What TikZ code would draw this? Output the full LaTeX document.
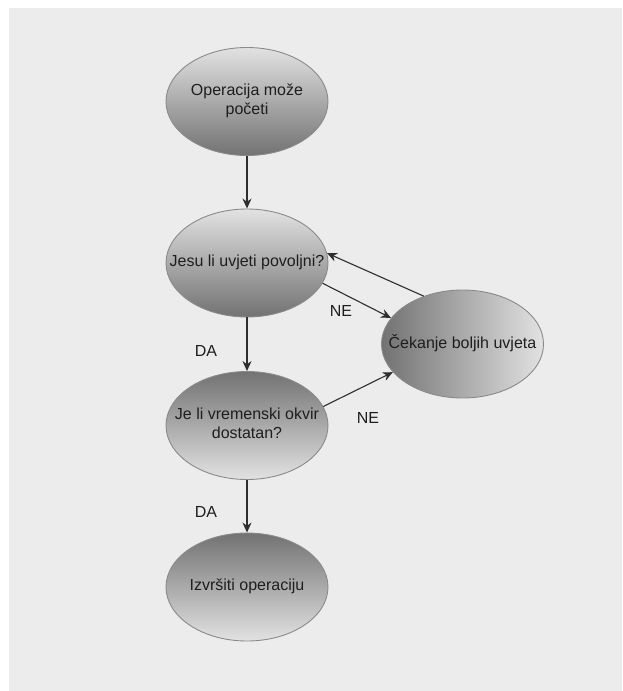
\documentclass[tikz,border=0pt]{standalone}
\usepackage{fontspec}
\setmainfont{Liberation Sans}
\usetikzlibrary{shapes.geometric,arrows.meta}
\definecolor{pozadina}{HTML}{ECECEC}
\definecolor{svijetla}{HTML}{E2E2E2}
\definecolor{tamna}{HTML}{727272}
\definecolor{rub}{HTML}{8A8A8A}
\definecolor{crta}{HTML}{2E2E2E}
\definecolor{tekst}{HTML}{1E1E1E}
\newcommand\velikifont{\fontsize{16}{19}\selectfont}
% tekst bez sirine, da elipsa ostane zadane velicine
\newcommand\utekst[1]{\makebox[0pt]{\begin{tabular}{@{}c@{}}#1\end{tabular}}}

\begin{document}
\begin{tikzpicture}[x=1pt,y=-1pt,
    stanje/.style={ellipse,draw=rub,line width=0.9pt,minimum width=162pt,minimum height=108pt,
      inner sep=0pt,text=tekst,font=\velikifont},
    svijetlo/.style={stanje,top color=svijetla,bottom color=tamna},
    tamno/.style={stanje,top color=tamna,bottom color=svijetla},
    strelica/.style={draw=crta,line width=1.1pt,-{Stealth[length=10pt,width=9pt]}},
    oznaka/.style={text=tekst,font=\velikifont}]
      \useasboundingbox (0,0) rectangle (622,691);
      \fill[pozadina] (9,8) rectangle (622,691);

      % stanja
      \node[svijetlo] (start) at(247,101.5) {\utekst{Operacija može\\početi}};
      \node[svijetlo] (uvjeti) at(247,263) {\utekst{Jesu li uvjeti povoljni?}};
      \node[stanje,left color=tamna,right color=svijetla] (cekanje) at(462.5,344) {\utekst{Čekanje boljih uvjeta}};
      \node[tamno] (okvir) at(247,425.5) {\utekst{Je li vremenski okvir\\dostatan?}};
      \node[tamno] (izvrsi) at(247,587) {\utekst{Izvršiti operaciju}};

      % prijelazi
      \draw[strelica] (start) -- (uvjeti);
      \draw[strelica] (uvjeti.-15) -- (cekanje.160);
      \draw[strelica] (cekanje.129) -- (uvjeti.7);
      \draw[strelica] (uvjeti) -- (okvir);
      \draw[strelica] (okvir.14) -- (cekanje.202);
      \draw[strelica] (okvir) -- (izvrsi);

      \node[oznaka] (ne1) at(341,311) {NE};
      \node[oznaka] (da1) at(206,351) {DA};
      \node[oznaka] (ne2) at(368,418) {NE};
      \node[oznaka] (da2) at(206,512) {DA};
\end{tikzpicture}
\end{document}
